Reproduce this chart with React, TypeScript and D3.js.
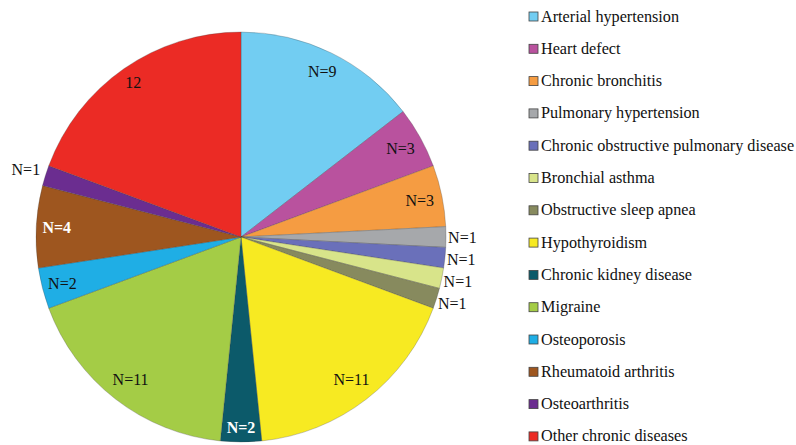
import React from "react";
import * as d3 from "d3";

const categories = [
  "Arterial hypertension",
  "Heart defect",
  "Chronic bronchitis",
  "Pulmonary hypertension",
  "Chronic obstructive pulmonary disease",
  "Bronchial asthma",
  "Obstructive sleep apnea",
  "Hypothyroidism",
  "Chronic kidney disease",
  "Migraine",
  "Osteoporosis",
  "Rheumatoid arthritis",
  "Osteoarthritis",
  "Other chronic diseases",
];
const values = [9, 3, 3, 1, 1, 1, 1, 11, 2, 11, 2, 4, 1, 12];
const labels = ["N=9", "N=3", "N=3", "N=1", "N=1", "N=1", "N=1", "N=11", "N=2", "N=11", "N=2", "N=4", "N=1", "12"];
const colors = [
  "#72CDF2", "#B9529E", "#F59C42", "#A6A8AB", "#6A70BA", "#D8E48A", "#878A5E",
  "#F7EA22", "#0C5A6A", "#A4CC46", "#1FAEE5", "#9E561F", "#6B2D90", "#EB2B25",
];

// label placement: radius factor and white/bold styling
const labelRadius = [0.9, 0.89, 0.89, 1.08, 1.08, 1.08, 1.08, 0.88, 0.93, 0.88, 0.9, 0.9, 1.1, 0.92];
const labelWhite = [false, false, false, false, false, false, false, false, true, false, false, true, false, false];

const FONT = "'Liberation Serif', 'Times New Roman', Times, serif";

export default function App() {
  const W = 796, H = 445;
  const cx = 241, cy = 237, R = 205;
  const pie = d3.pie<number>().value((d) => d).sort(null)(values);
  const arc = d3.arc<d3.PieArcDatum<number>>().innerRadius(0).outerRadius(R);

  const legendX = 529;
  const legendY0 = 16.5;
  const legendStep = 32.3;

  return (
    <svg width={W} height={H} style={{ position: "fixed", left: 0, top: 0, background: "#fff", fontFamily: FONT }}>
      <g transform={`translate(${cx},${cy})`}>
        {pie.map((p, i) => (
          <path key={i} d={arc(p) || ""} fill={colors[i]} stroke="rgba(60,60,60,0.45)" strokeWidth={0.6} />
        ))}
        {pie.map((p, i) => {
          const a = (p.startAngle + p.endAngle) / 2;
          const r = R * labelRadius[i];
          const x = Math.sin(a) * r;
          const y = -Math.cos(a) * r;
          return (
            <text key={i} x={x} y={y} textAnchor="middle" dominantBaseline="central"
              style={{ fontFamily: FONT }}
              fontSize={16} fill={labelWhite[i] ? "#fff" : "#111"} fontWeight={labelWhite[i] ? "bold" : "normal"}>
              {labels[i]}
            </text>
          );
        })}
      </g>
      <g>
        {categories.map((c, i) => (
          <g key={i} transform={`translate(${legendX},${legendY0 + i * legendStep})`}>
            <rect x={0} y={-4.5} width={9} height={9} fill={colors[i]} stroke="#444" strokeWidth={0.8} />
            <text x={12} y={0} dominantBaseline="central" fontSize={16.2} fill="#111" style={{ fontFamily: FONT }}>{c}</text>
          </g>
        ))}
      </g>
    </svg>
  );
}
